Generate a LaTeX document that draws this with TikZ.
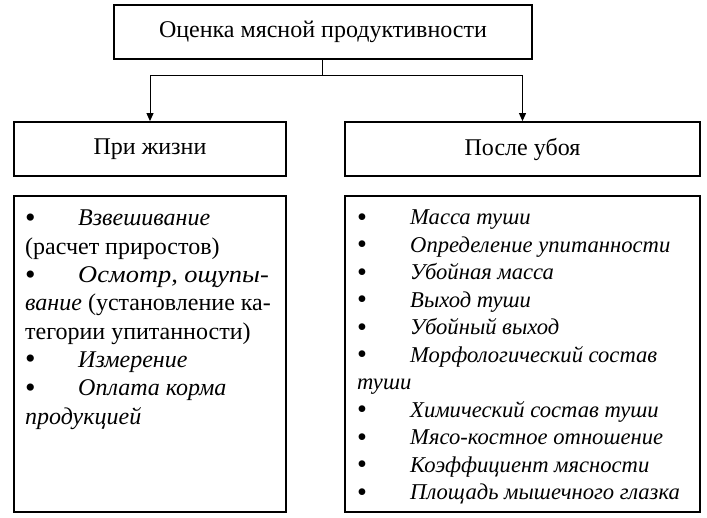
\documentclass[tikz,border=0pt]{standalone}
\usepackage{fontspec}
\usepackage{graphicx}
\setmainfont{Liberation Serif}
\usetikzlibrary{arrows.meta}
\newcommand\bul{\makebox[53pt][l]{\raisebox{-1.5pt}{\scalebox{1.25}{•}}}}
\begin{document}
\begin{tikzpicture}[
  x=1pt, y=-1pt,
  box/.style={draw, line width=1.8pt, inner sep=0pt, font=\fontsize{24}{28}\selectfont},
  list/.style={inner sep=0pt, anchor=north west, align=left},
  link/.style={line width=1pt},
  arrow/.style={link, -{Triangle[length=8pt,width=7pt]}}
]
  \useasboundingbox (0,0) rectangle (707,517);

  % headings
  \node[box, minimum width=418pt, minimum height=54pt] (top) at (323,32) {Оценка мясной продуктивности};
  \node[box, minimum width=272pt, minimum height=54pt] (alive) at (150,149) {При жизни};
  \node[box, minimum width=355pt, minimum height=54pt] (dead) at (522.5,149) {После убоя};

  % list boxes
  \node[box, minimum width=272pt, minimum height=316pt] (alivebox) at (150,354) {};
  \node[box, minimum width=355pt, minimum height=316pt] (deadbox) at (522.5,354) {};

  \node[list, font=\fontsize{24}{28.3}\selectfont] (alivelist) at (25,210) {%
    \bul\textit{Взвешивание}\\
    (расчет приростов)\\
    \bul\scalebox{1.1}[1]{\textit{Осмотр, ощупы-}}\\
    \textit{вание} (установление ка-\\
    тегории упитанности)\\
    \bul\textit{Измерение}\\
    \bul\textit{Оплата корма}\\
    \textit{продукцией}};

  \node[list, font=\fontsize{22.6}{27.5}\selectfont] (deadlist) at (357,209.5) {%
    \bul\textit{Масса туши}\\
    \bul\textit{Определение упитанности}\\
    \bul\textit{Убойная масса}\\
    \bul\textit{Выход туши}\\
    \bul\textit{Убойный выход}\\
    \bul\textit{Морфологический состав}\\
    \textit{туши}\\
    \bul\textit{Химический состав туши}\\
    \bul\textit{Мясо-костное отношение}\\
    \bul\textit{Коэффициент мясности}\\
    \bul\textit{Площадь мышечного глазка}};

  % connectors
  \coordinate (fork) at (322,75);
  \draw[link] (top.south -| fork) -- (fork);
  \draw[arrow] (fork) -| (alive.north);
  \draw[arrow] (fork) -| (dead.north);
\end{tikzpicture}
\end{document}
